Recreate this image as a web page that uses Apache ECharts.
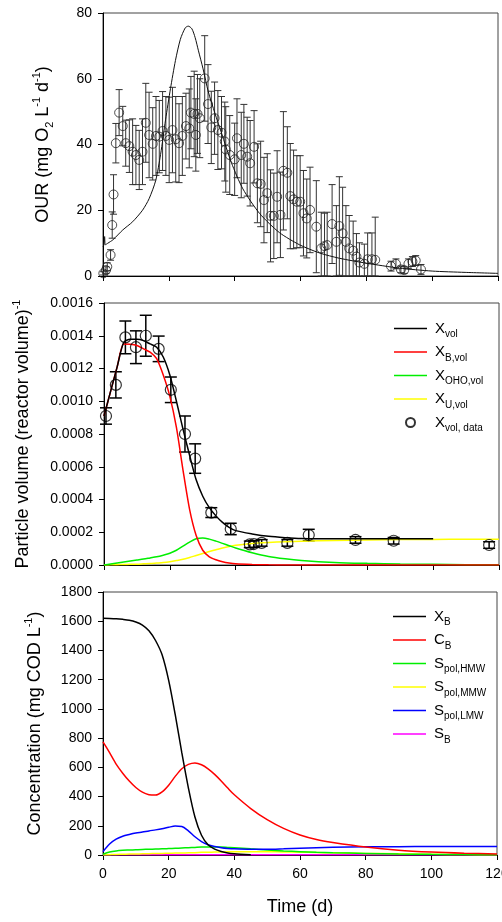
<!DOCTYPE html>
<html><head><meta charset="utf-8">
<script src="https://cdn.jsdelivr.net/npm/echarts@6/dist/echarts.min.js"></script>
<style>html,body{margin:0;padding:0;background:#fff}#c{width:502px;height:922px}</style>
</head><body><div id="c"></div>
<script>
// ---------- Panel 1: OUR ----------
var ourT   = [0.1,0.9,1.3,2.3,2.8,3.2,3.9,4.9,6.0,6.9,8.0,9.0,10.0,11.0,12.0,13.0,14.0,15.1,16.1,17.1,18.1,19.1,20.1,21.1,22.1,23.1,24.1,25.2,26.2,26.7,27.7,28.2,28.7,29.4,30.9,31.9,32.9,33.9,34.9,36.0,37.0,37.3,38.5,40.0,40.7,42.0,42.8,43.8,44.7,45.9,46.9,47.9,48.9,49.9,50.9,51.9,52.9,53.9,54.8,56.0,56.9,57.9,58.9,59.9,60.9,61.9,62.9,64.8,66.3,67.3,68.1,69.6,70.9,71.8,72.8,73.8,74.8,76.0,77.0,77.9,79.4,80.4,81.7,82.7,87.5,89.0,90.5,91.5,92.8,94.0,95.0,96.6];
var ourV   = [0.8,1.8,2.8,6.4,15.5,24.8,40.4,49.7,45.6,40.4,39.5,37.8,36.8,35.3,37.8,46.6,42.9,40.2,42.6,42.4,44.1,42.6,41.4,44.4,41.6,40.4,42.6,45.6,44.9,49.7,49.3,42.9,49.3,48.0,60.1,52.3,45.2,48.0,44.4,43.6,40.9,38.5,36.8,35.5,41.9,36.8,40.2,36.3,34.3,39.3,28.2,28.0,23.1,25.2,18.3,18.3,24.1,18.6,32.0,31.4,24.3,23.3,22.6,22.6,19.1,17.5,20.1,15.0,8.4,9.1,9.4,15.8,10.4,15.2,13.0,10.4,8.4,7.7,5.9,4.1,3.7,5.1,5.1,4.9,3.0,3.7,2.0,1.8,3.7,4.4,4.7,2.0];
var ourErr = [0.5,1,1.2,1.6,4,6,6,7,6,7,8,10,9,9,10,12,13,11,12,11,12,12,13,13,13,12,12,10,12,11,13,11,12,12,13,12,11,11,12,11,12,13,12,11,12,13,12,12,13,11,12,13,13,12,14,13,14,13,18,14,16,15,14,14,13,12,13,14,11,10,10,12,11,15,14,11,10,9,7,6,6,8,8,13,1.5,1.5,1,1,1.5,1.5,1.5,1.5];
var ourModelT = [0,0.3,0.5,0.7,1.5,3,6,9,12,14,16,17.5,19,20.5,22,23.5,25,25.9,27,28,29,30.4,32,34,36,39,42.5,47.6,53.6,59.7,65.8,71.8,80,90,100,110,120];
var ourModelV = [9,9.5,12,9.5,10,11,14,16.5,20,23.5,29,37,47.5,57,65.5,72,75.5,76,75.2,72.5,68.5,63,56,49.5,43.5,34.5,26.5,19,13.2,9.5,7,5.4,3.9,2.4,1.5,1.1,0.8];

// ---------- Panel 2: particle volume ----------
var pvT   = [0.6,3.6,6.5,9.7,12.7,16.6,20.3,24.6,27.7,32.6,38.5,44.3,45.5,47.9,55.7,62.2,76.4,88,117];
var pvV   = [0.00091,0.0011,0.00139,0.00133,0.0014,0.00132,0.00107,0.0008,0.00065,0.00032,0.00022,0.000126,0.000128,0.000135,0.000135,0.000183,0.000153,0.000148,0.000122];
var pvErr = [0.00005,0.00008,0.0001,0.0001,0.000125,0.000078,0.000078,0.00011,0.00009,0.00003,0.000035,0.00002,0.00002,0.00002,0.00002,0.000035,0.00002,0.00002,0.00002];
var pvTime = [0,2,4,6,8,10,12,14,16,18,20,22,24,26,28,30,32,34,36,38,40,45,50,55,60,70,80,90,100,110,120];
var xVol  = [0.00091,0.00106,0.00121,0.00136,0.001378,0.001378,0.00137,0.00135,0.00133,0.00127,0.00116,0.001,0.00083,0.00067,0.00052,0.00042,0.00035,0.0003,0.00026,0.00023,0.00021,0.00019,0.000175,0.000167,0.000162,0.00016,0.00016,0.00016,0.00016,null,null];
var xBVol = [0.00091,0.00106,0.00121,0.00135,0.001348,0.00134,0.00132,0.0013,0.00126,0.00116,0.00103,0.00084,0.00058,0.00034,0.00018,0.00009,0.00005,0.000032,0.00002,0.000012,0.000007,0.000003,0.000001,0,0,0,0,0,0,0,0];
var xOHOVol = [0,0.000006,0.000012,0.000018,0.000024,0.00003,0.000036,0.000043,0.00005,0.00006,0.000072,0.00009,0.000115,0.00014,0.00016,0.000165,0.000158,0.000146,0.000132,0.000118,0.000104,0.000075,0.000052,0.000038,0.000028,0.000016,0.00001,0.000006,0.000004,0.000002,0.000001];
var xUVol = [0,0.000001,0.000002,0.000003,0.000004,0.000005,0.000007,0.000009,0.000012,0.000015,0.00002,0.000027,0.000035,0.000046,0.000058,0.00007,0.000082,0.000093,0.000104,0.000113,0.00012,0.000132,0.000138,0.000142,0.000145,0.00015,0.000153,0.000155,0.000156,0.000157,0.000158];

// ---------- Panel 3: concentrations ----------
var cTime = [0,2,4,6,8,10,12,14,16,18,20,22,24,26,28,30,32,34,36,38,40,45,50,55,60,65,70,80,90,100,110,120];
var cXB   = [1620,1619,1617,1613,1607,1595,1574,1535,1468,1370,1195,960,700,460,260,135,70,40,24,14,9,2,null,null,null,null,null,null,null,null,null,null];
var cCB   = [775,700,622,560,506,462,430,413,410,432,478,538,590,620,630,618,590,552,507,458,412,318,242,182,137,106,86,55,33,20,12,7];
var cHMW  = [5,20,28,32,34,36,38,39,41,42,44,46,48,50,52,54,55,55,54,52,50,42,35,28,23,19,16,11,7,4.5,3,2];
var cMMW  = [0,2,4,5,6,7,8,9,10,11,12,13,14,15,16,18,19,20,21,22,22,23,22,21,19,17,15,11,8,5,3,2];
var cLMW  = [23,75,108,128,140,150,157,165,172,180,190,198,195,165,125,92,70,58,50,45,42,39,39,42,46,50,53,56,57,58,58,58];
var cSB   = [2,2,2,2,2,2,2,2,2,2,2,2,2,2,2,2,2,2,2,2,2,2,2,2,2,2,2,2,2,2,2,2];

var legend2Names = ['X_vol','X_B,vol','X_OHO,vol','X_U,vol','X_vol, data'];
var legend3Names = ['X_B','C_B','S_pol,HMW','S_pol,MMW','S_pol,LMW','S_B'];

var FONT = '"Liberation Sans", Arial, sans-serif';
function zip(a, b) { return a.map(function (t, i) { return [t, b[i]]; }); }
function zip3(a, b, c) { return a.map(function (t, i) { return [t, b[i], c[i]]; }); }

var axisRich = {
  n:   {fontSize: 18, fontFamily: FONT, color: '#000', lineHeight: 24, verticalAlign: 'middle'},
  sub: {fontSize: 11, fontFamily: FONT, color: '#000', lineHeight: 8, verticalAlign: 'bottom'},
  sup: {fontSize: 11, fontFamily: FONT, color: '#000', lineHeight: 8, verticalAlign: 'top'}
};
var legRich = {
  m: {fontSize: 15, fontFamily: FONT, color: '#000', lineHeight: 22, verticalAlign: 'middle'},
  s: {fontSize: 10, fontFamily: FONT, color: '#000', lineHeight: 8, verticalAlign: 'bottom'}
};
function legFmt(name) {
  var i = name.indexOf('_');
  return '{m|' + name.slice(0, i) + '}{s|' + name.slice(i + 1) + '}';
}
var LINE_ICON = 'path://M0,0L33,0L33,1.6L0,1.6Z';
function legData(names) {
  return names.map(function (n) {
    return n.indexOf('data') >= 0 ? {name: n} : {name: n, icon: LINE_ICON};
  });
}

function xAxis(idx, showLabels) {
  return {
    type: 'value', gridIndex: idx, min: 0, max: 120, interval: 20,
    axisLine: {show: true, onZero: false, lineStyle: {color: '#000', width: 1}},
    axisTick: {show: true, inside: false, length: 5, lineStyle: {color: '#000'}},
    axisLabel: {show: showLabels, fontSize: 14, fontFamily: FONT, color: '#000', margin: 12,
                formatter: function (v) { return String(v); }},
    splitLine: {show: false}
  };
}
function yAxis(idx, max, interval, name, gap, fmt) {
  return {
    type: 'value', gridIndex: idx, min: 0, max: max, interval: interval,
    name: name, nameLocation: 'middle', nameGap: gap,
    nameTextStyle: {fontSize: 18, fontFamily: FONT, color: '#000', rich: axisRich},
    axisLine: {show: true, lineStyle: {color: '#000', width: 1}},
    axisTick: {show: true, inside: false, length: 5, lineStyle: {color: '#000'}},
    axisLabel: {fontSize: 14, fontFamily: FONT, color: '#000', margin: 11,
                formatter: fmt || function (v) { return String(v); }},
    splitLine: {show: false}
  };
}

function errBar(capHalf, width, color) {
  return function (params, api) {
    var x = api.value(0), y = api.value(1), e = api.value(2);
    var lo = Math.max(0, y - e);
    var top = api.coord([x, y + e]);
    var bot = api.coord([x, lo]);
    var st = {stroke: color, lineWidth: width};
    return {
      type: 'group',
      children: [
        {type: 'line', shape: {x1: top[0], y1: top[1], x2: bot[0], y2: bot[1]}, style: st},
        {type: 'line', shape: {x1: top[0] - capHalf, y1: top[1], x2: top[0] + capHalf, y2: top[1]}, style: st},
        {type: 'line', shape: {x1: bot[0] - capHalf, y1: bot[1], x2: bot[0] + capHalf, y2: bot[1]}, style: st}
      ]
    };
  };
}

function lineSeries(name, xi, yi, xs, ys, color, width, smooth) {
  return {
    name: name, type: 'line', xAxisIndex: xi, yAxisIndex: yi,
    data: zip(xs, ys), symbol: 'none', showSymbol: false,
    smooth: smooth, connectNulls: false,
    lineStyle: {color: color, width: width}, itemStyle: {color: color},
    animation: false, z: 3
  };
}

var chart = echarts.init(document.getElementById('c'), null, {renderer: 'canvas'});
var border = {show: true, borderColor: '#444', borderWidth: 1, backgroundColor: 'transparent',
              containLabel: false, outerBoundsMode: 'none'};

chart.setOption({
  backgroundColor: '#fff',
  animation: false,
  grid: [
    Object.assign({left: 103, width: 395, top: 13, height: 263}, border),
    Object.assign({left: 104, width: 395, top: 303, height: 262}, border),
    Object.assign({left: 103, width: 394, top: 592, height: 263}, border)
  ],
  xAxis: [
    xAxis(0, false), xAxis(1, false),
    Object.assign(xAxis(2, true), {name: 'Time (d)', nameLocation: 'middle', nameGap: 43,
      nameTextStyle: {fontSize: 18, fontFamily: FONT, color: '#000'}})
  ],
  yAxis: [
    yAxis(0, 80, 20, '{n|OUR (mg O}{sub|2}{n| L}{sup|-1}{n| d}{sup|-1}{n|)}', 48),
    yAxis(1, 0.0016, 0.0002, '{n|Particle volume (reactor volume)}{sup|-1}', 69, function (v) { return v.toFixed(4); }),
    yAxis(2, 1800, 200, '{n|Concentration (mg COD L}{sup|-1}{n|)}', 56)
  ],
  legend: [
    {orient: 'vertical', left: 389, top: 316, itemWidth: 33, itemHeight: 9, itemGap: 5,
     selectedMode: false, data: legData(legend2Names), formatter: legFmt,
     textStyle: {rich: legRich, padding: [0, 0, 0, 3]}},
    {orient: 'vertical', left: 388, top: 604, itemWidth: 33, itemHeight: 9, itemGap: 5,
     selectedMode: false, data: legData(legend3Names), formatter: legFmt,
     textStyle: {rich: legRich, padding: [0, 0, 0, 3]}}
  ],
  series: [
    // panel 1
    {name: 'OUR err', type: 'custom', xAxisIndex: 0, yAxisIndex: 0, data: zip3(ourT, ourV, ourErr),
     renderItem: errBar(3.5, 1, '#333'), z: 1, animation: false},
    {name: 'OUR data', type: 'scatter', xAxisIndex: 0, yAxisIndex: 0, data: zip(ourT, ourV),
     symbol: 'circle', symbolSize: 9,
     itemStyle: {color: 'rgba(0,0,0,0)', borderColor: '#222', borderWidth: 1}, z: 2, animation: false},
    lineSeries('OUR model', 0, 0, ourModelT, ourModelV, '#111', 1, 0.25),
    // panel 2
    {name: 'PV err', type: 'custom', xAxisIndex: 1, yAxisIndex: 1, data: zip3(pvT, pvV, pvErr),
     renderItem: errBar(6, 1.5, '#000'), z: 1, animation: false},
    lineSeries('X_U,vol', 1, 1, pvTime, xUVol, '#ffff00', 1.5, 0.3),
    lineSeries('X_OHO,vol', 1, 1, pvTime, xOHOVol, '#00ee00', 1.5, 0.3),
    lineSeries('X_B,vol', 1, 1, pvTime, xBVol, '#ff0000', 1.5, 0.25),
    lineSeries('X_vol', 1, 1, pvTime, xVol, '#000000', 1.5, 0.25),
    {name: 'X_vol, data', type: 'scatter', xAxisIndex: 1, yAxisIndex: 1, data: zip(pvT, pvV),
     symbol: 'circle', symbolSize: 11,
     itemStyle: {color: 'rgba(0,0,0,0)', borderColor: '#000', borderWidth: 1.2}, z: 4, animation: false},
    // panel 3
    lineSeries('S_B', 2, 2, cTime, cSB, '#ff00ff', 1.5, 0.3),
    lineSeries('S_pol,MMW', 2, 2, cTime, cMMW, '#ffff00', 1.5, 0.3),
    lineSeries('S_pol,HMW', 2, 2, cTime, cHMW, '#00ee00', 1.5, 0.3),
    lineSeries('S_pol,LMW', 2, 2, cTime, cLMW, '#0000ff', 1.5, 0.3),
    lineSeries('C_B', 2, 2, cTime, cCB, '#ff0000', 1.5, 0.3),
    lineSeries('X_B', 2, 2, cTime, cXB, '#000000', 1.5, 0.3)
  ]
});
</script></body></html>
